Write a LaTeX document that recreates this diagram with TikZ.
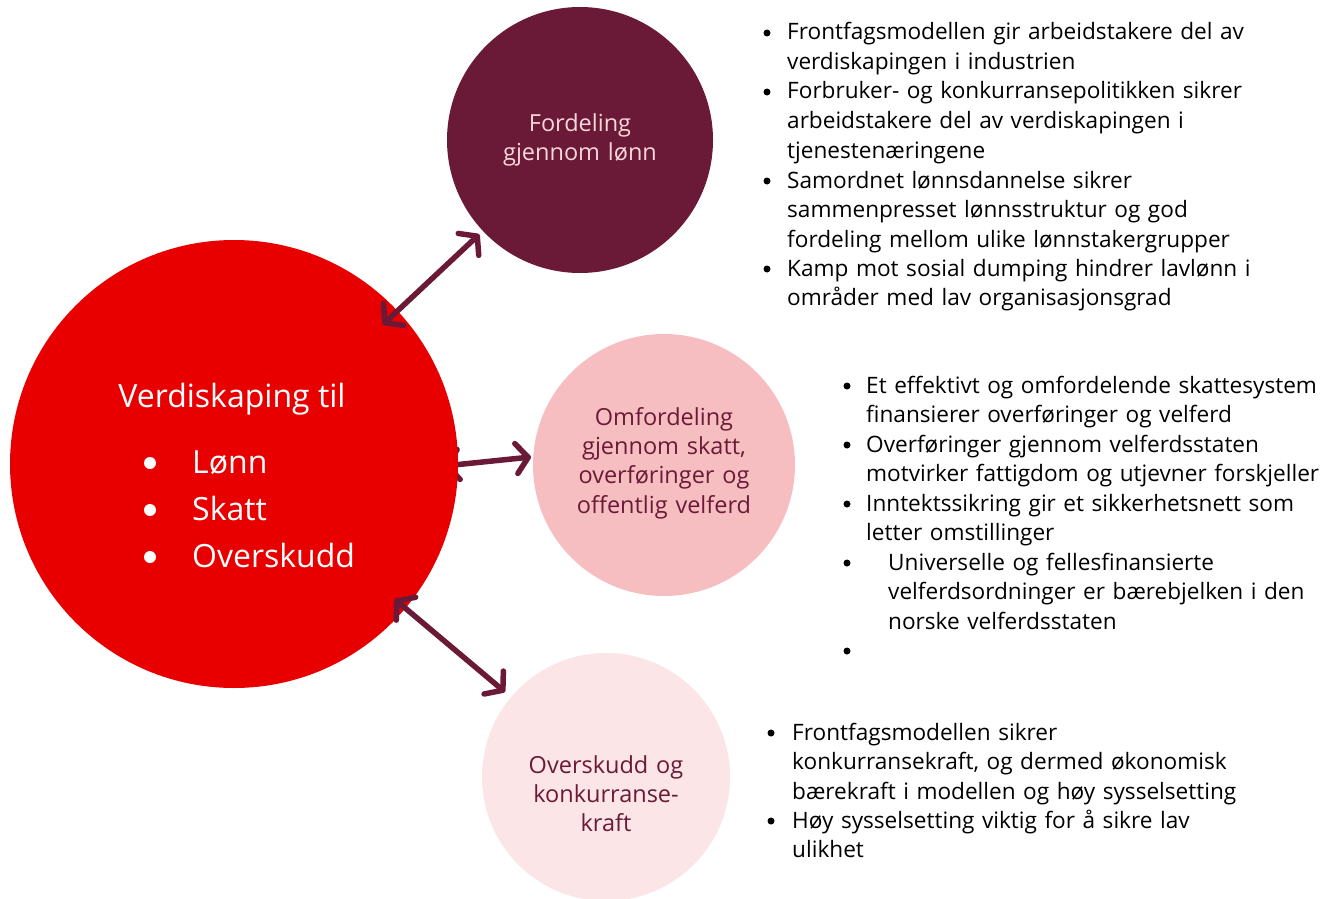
\documentclass[tikz,border=0pt]{standalone}
\usepackage{fontspec}
\setmainfont{Open Sans}
\usetikzlibrary{arrows.meta}
\definecolor{cmaroon}{HTML}{6A1A36}
\definecolor{cred}{HTML}{E80000}
\definecolor{cpink}{HTML}{F7BEC1}
\definecolor{clight}{HTML}{FCE5E7}
\definecolor{ctextlight}{HTML}{F7D6DC}
\begin{document}
\begin{tikzpicture}[x=1pt,y=-1pt,
  disc/.style={circle, inner sep=0pt, minimum size=#1},
  dbl/.style={draw=cmaroon, line width=5.5pt,
    {Straight Barb[round,length=12pt,width=30pt]}-{Straight Barb[round,length=12pt,width=30pt]}},
  item/.style={anchor=base west, align=left, text width=540pt, inner sep=0pt,
    font=\fontsize{22.6}{29.5}\selectfont, text=black},
  bdot/.style={circle, fill=black, inner sep=0pt, minimum size=7pt},
  wdot/.style={circle, fill=white, inner sep=0pt, minimum size=12pt},
  ctext/.style={anchor=base, align=center, text width=260pt, inner sep=0pt,
    font=\fontsize{23.5}{29.4}\selectfont},
  bigtext/.style={anchor=base west, inner sep=0pt, text=white,
    font=\fontsize{32}{47}\selectfont}
]
\useasboundingbox[fill=white] (0,0) rectangle (1320,899);

% middle arrow (tail mostly hidden behind the big circle)
\coordinate (a2s) at (444,466);
\coordinate (a2e) at (531,457);
\draw[dbl] (a2s) -- (a2e);

% circles
\node[disc=448pt, fill=cred] (red) at (234,464) {};
\node[disc=266pt, fill=cmaroon] (dark) at (580,140) {};
\node[disc=262pt, fill=cpink] (mid) at (664,465) {};
\node[disc=248pt, fill=clight] (low) at (606,777) {};

% arrows
\draw[dbl, shorten <=204pt, shorten >=138pt] (red.center) -- (dark.center);
\draw[dbl, shorten <=210pt, shorten >=132pt] (red.center) -- (low.center);

% big circle text
\node[anchor=base, inner sep=0pt, text=white, font=\fontsize{32}{47}\selectfont] (vt) at (232,407) {Verdiskaping til};
\node[wdot] (w1) at (150,463) {};
\node[wdot] (w2) at (150,510) {};
\node[wdot] (w3) at (150,557) {};
\node[bigtext] (l1) at (192,473) {Lønn};
\node[bigtext] (l2) at (192,520) {Skatt};
\node[bigtext] (l3) at (192,567) {Overskudd};

% circle texts
\node[ctext, text=ctextlight] (t1) at (580,131) {Fordeling\\gjennom lønn};
\node[ctext, text=cmaroon] (t2) at (664,425) {Omfordeling\\gjennom skatt,\\overføringer og\\offentlig velferd};
\node[ctext, text=cmaroon] (t3) at (606,773) {Overskudd og\\konkurranse-\\kraft};

% block 1
\node[bdot] (d11) at (767,33) {};
\node[item] (i11) at (787,40) {Frontfagsmodellen gir arbeidstakere del av\\verdiskapingen i industrien};
\node[bdot] (d12) at (767,92) {};
\node[item] (i12) at (787,99) {Forbruker- og konkurransepolitikken sikrer\\arbeidstakere del av verdiskapingen i\\tjenestenæringene};
\node[bdot] (d13) at (767,181) {};
\node[item] (i13) at (787,188) {Samordnet lønnsdannelse sikrer\\sammenpresset lønnsstruktur og god\\fordeling mellom ulike lønnstakergrupper};
\node[bdot] (d14) at (767,269) {};
\node[item] (i14) at (787,276) {Kamp mot sosial dumping hindrer lavlønn i\\områder med lav organisasjonsgrad};

% block 2
\node[bdot] (d21) at (847,386) {};
\node[item] (i21) at (866,393) {Et effektivt og omfordelende skattesystem\\finansierer overføringer og velferd};
\node[bdot] (d22) at (847,445) {};
\node[item] (i22) at (866,452) {Overføringer gjennom velferdsstaten\\motvirker fattigdom og utjevner forskjeller};
\node[bdot] (d23) at (847,504) {};
\node[item] (i23) at (866,511) {Inntektssikring gir et sikkerhetsnett som\\letter omstillinger};
\node[bdot] (d24) at (847,563) {};
\node[item] (i24) at (888,570) {Universelle og fellesfinansierte\\velferdsordninger er bærebjelken i den\\norske velferdsstaten};
\node[bdot] (d25) at (847,651) {};

% block 3
\node[bdot] (d31) at (771,733) {};
\node[item] (i31) at (792,740) {Frontfagsmodellen sikrer\\konkurransekraft, og dermed økonomisk\\bærekraft i modellen og høy sysselsetting};
\node[bdot] (d32) at (771,821) {};
\node[item] (i32) at (792,828) {Høy sysselsetting viktig for å sikre lav\\ulikhet};
\end{tikzpicture}
\end{document}
